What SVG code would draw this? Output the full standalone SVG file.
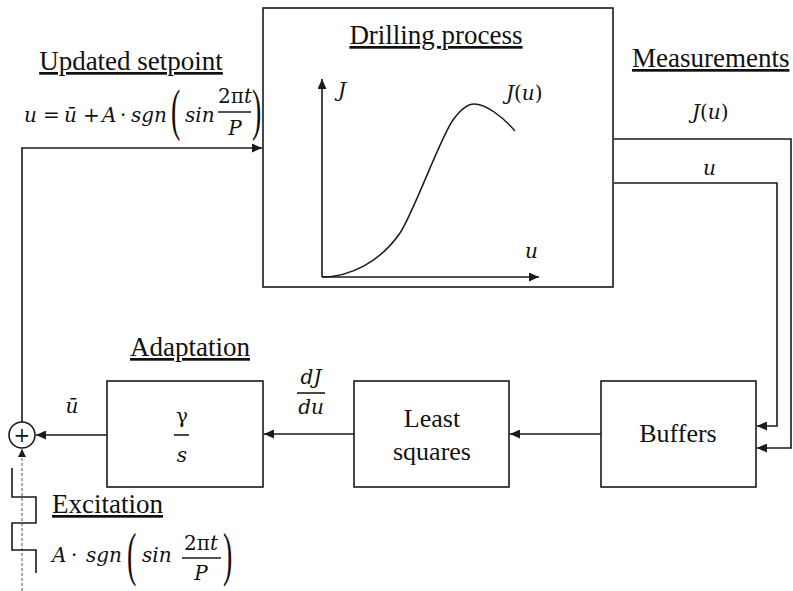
<svg xmlns="http://www.w3.org/2000/svg" width="793" height="591" viewBox="0 0 793 591">
<defs>
<marker id="arr" markerUnits="userSpaceOnUse" markerWidth="11" markerHeight="9" refX="10" refY="4.5" orient="auto">
<path d="M0,0 L10,4.5 L0,9 z" fill="#1a1a1a"/>
</marker>
<marker id="arrg" markerUnits="userSpaceOnUse" markerWidth="9" markerHeight="8" refX="8" refY="4" orient="auto">
<path d="M0,0 L8,4 L0,8 z" fill="#1a1a1a"/>
</marker>
</defs>
<style>
.box{fill:#fff;stroke:#1a1a1a;stroke-width:1.6}
.ln{fill:none;stroke:#1a1a1a;stroke-width:1.6}
.hd{font-size:27px;fill:#111;text-decoration:underline}
.bt{font-size:26px;fill:#111}
.m{font-style:italic;font-size:20px;fill:#111}
.mu{font-style:normal;font-size:20px;fill:#111}
.par{font-size:28px;fill:#111}
</style>
<rect width="793" height="591" fill="#fff"/>

<g id="connectors">
<path class="ln" d="M22,422 V148 H262" marker-end="url(#arr)"/>
<path class="ln" d="M614,139 H791 V448 H757" marker-end="url(#arr)"/>
<path class="ln" d="M614,183 H777 V426 H757" marker-end="url(#arr)"/>
<path class="ln" d="M601,434 H510" marker-end="url(#arr)"/>
<path class="ln" d="M354,434 H264" marker-end="url(#arr)"/>
<path class="ln" d="M107,435 H36" marker-end="url(#arr)"/>
<path d="M22,591 V449" fill="none" stroke="#555" stroke-width="1" stroke-dasharray="3,2" marker-end="url(#arrg)"/>
</g>

<g id="drilling-process">
<rect class="box" x="263" y="8" width="350" height="279"/>
<text class="hd" font-family="Liberation Serif, Times New Roman, serif" x="436" y="44" text-anchor="middle">Drilling process</text>
<path class="ln" d="M322,277 V79" marker-end="url(#arr)"/>
<path class="ln" d="M322,277 H539" marker-end="url(#arr)"/>
<path fill="none" stroke="#1a1a1a" stroke-width="1.5" d="M322,277 C350,277 380,262 400,233 C413,214 441,136 453,120 C461,109 467,104 474,104 C486,104 503,117 515,131"/>
<g font-family="DejaVu Serif, serif">
<text class="m" x="338" y="97">J</text>
<text class="m" x="506" y="100">J<tspan class="mu">(</tspan>u<tspan class="mu">)</tspan></text>
<text class="m" x="525" y="258">u</text>
</g>
</g>

<g id="updated-setpoint">
<text class="hd" font-family="Liberation Serif, Times New Roman, serif" x="131" y="70" text-anchor="middle">Updated setpoint</text>
<g font-family="DejaVu Serif, serif">
<text class="m" x="24" y="122">u</text>
<text class="mu" x="43" y="122">=</text>
<text class="m" x="64" y="122">ū</text>
<text class="mu" x="83" y="122">+</text>
<text class="m" x="102" y="122">A</text>
<text class="mu" x="120" y="122">·</text>
<text class="m" x="131" y="122">sgn</text>
<text class="par" font-family="Liberation Serif, serif" transform="translate(171,129) scale(1,2.05)">(</text>
<text class="m" x="185" y="122">sin</text>
<text class="m" x="235" y="103" text-anchor="middle"><tspan class="mu">2π</tspan>t</text>
<line class="ln" x1="218" y1="112" x2="251" y2="112" stroke-width="1.3"/>
<text class="m" x="235" y="135" text-anchor="middle">P</text>
<text class="par" font-family="Liberation Serif, serif" transform="translate(252,129) scale(1,2.05)">)</text>
</g>
</g>

<g id="measurements">
<text class="hd" font-family="Liberation Serif, Times New Roman, serif" x="632" y="67">Measurements</text>
<g font-family="DejaVu Serif, serif">
<text class="m" x="692" y="119">J<tspan class="mu">(</tspan>u<tspan class="mu">)</tspan></text>
<text class="m" x="703" y="175">u</text>
</g>
</g>

<g id="sum">
<circle cx="22" cy="435" r="13" fill="#fff" stroke="#1a1a1a" stroke-width="1.6"/>
<text class="mu" font-family="DejaVu Serif, serif" x="22" y="442" text-anchor="middle">+</text>
</g>

<g id="adaptation">
<text class="hd" font-family="Liberation Serif, Times New Roman, serif" x="190" y="356" text-anchor="middle">Adaptation</text>
<rect class="box" x="107" y="381" width="156" height="106"/>
<g font-family="DejaVu Serif, serif">
<text class="mu" x="182" y="423" text-anchor="middle">γ</text>
<line class="ln" x1="174" y1="435" x2="189" y2="435" stroke-width="1.3"/>
<text class="m" x="182" y="462" text-anchor="middle">s</text>
<text class="m" x="72" y="413" text-anchor="middle">ū</text>
</g>
</g>

<g id="least-squares">
<rect class="box" x="354" y="381" width="155" height="106"/>
<text class="bt" font-family="Liberation Serif, Times New Roman, serif" x="432" y="427" text-anchor="middle">Least</text>
<text class="bt" font-family="Liberation Serif, Times New Roman, serif" x="432" y="460" text-anchor="middle">squares</text>
<g font-family="DejaVu Serif, serif">
<text class="m" x="311" y="384" text-anchor="middle">dJ</text>
<line class="ln" x1="297" y1="393" x2="325" y2="393" stroke-width="1.3"/>
<text class="m" x="311" y="414" text-anchor="middle">du</text>
</g>
</g>

<g id="buffers">
<rect class="box" x="601" y="381" width="155" height="106"/>
<text class="bt" font-family="Liberation Serif, Times New Roman, serif" x="678" y="442" text-anchor="middle">Buffers</text>
</g>

<g id="excitation">
<polyline class="ln" points="12,468 12,497 36,497 36,523 12,523 12,550 36,550 36,573" stroke-width="1.4"/>
<text class="hd" font-family="Liberation Serif, Times New Roman, serif" x="52" y="513">Excitation</text>
<g font-family="DejaVu Serif, serif">
<text class="m" x="52" y="562">A</text>
<text class="mu" x="71" y="562">·</text>
<text class="m" x="86" y="562">sgn</text>
<text class="par" font-family="Liberation Serif, serif" transform="translate(127,574) scale(1,2.15)">(</text>
<text class="m" x="142" y="562">sin</text>
<text class="m" x="201" y="550" text-anchor="middle"><tspan class="mu">2π</tspan>t</text>
<line class="ln" x1="182" y1="558" x2="221" y2="558" stroke-width="1.3"/>
<text class="m" x="201" y="580" text-anchor="middle">P</text>
<text class="par" font-family="Liberation Serif, serif" transform="translate(223,574) scale(1,2.15)">)</text>
</g>
</g>
</svg>
